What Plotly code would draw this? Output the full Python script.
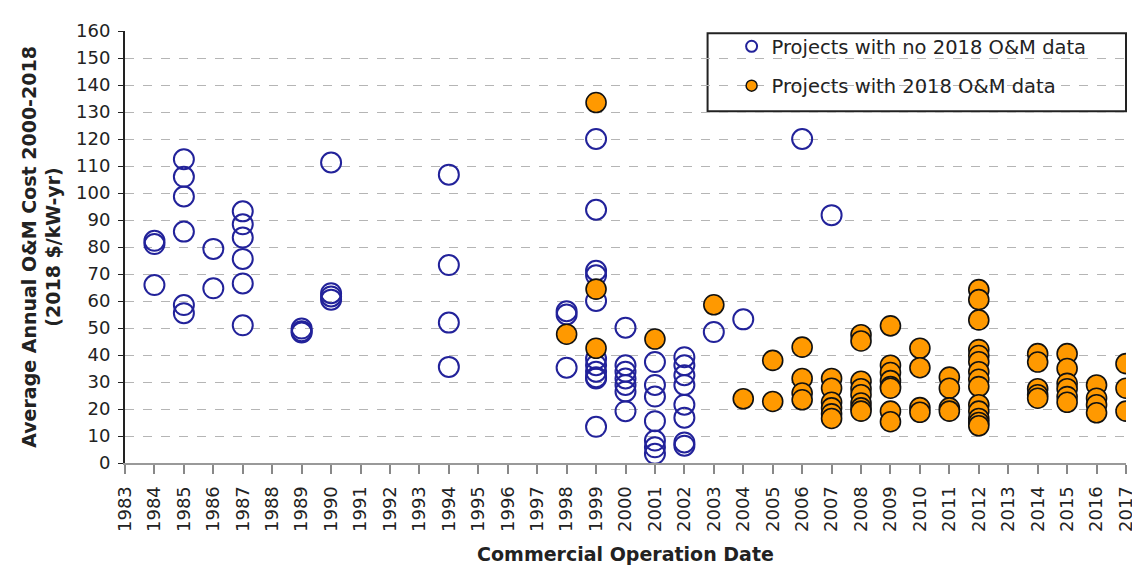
import plotly.graph_objects as go

# Projects with no 2018 O&M data (open blue circles)
no_data_years = (
    [1984] * 3 + [1985] * 6 + [1986] * 2 + [1987] * 6 + [1989] * 3 + [1990] * 4 +
    [1994] * 4 + [1998] * 3 + [1999] * 11 + [2000] * 7 + [2001] * 7 + [2002] * 8 +
    [2003] + [2004] + [2006] + [2007]
)
no_data_cost = (
    [82.3, 81.1, 65.9] +
    [112.5, 106, 98.7, 85.7, 58.5, 55.5] +
    [79.3, 64.7] +
    [93.2, 88.4, 83.5, 75.6, 66.5, 51] +
    [49.8, 48.8, 48.3] +
    [111.3, 62.9, 61.7, 60.5] +
    [106.8, 73.3, 52, 35.6] +
    [56.2, 55, 35.3] +
    [120, 93.8, 71.2, 69.5, 60, 38.6, 36.2, 33.8, 31.8, 31.3, 13.4] +
    [50.1, 36.2, 33.8, 31.3, 28.9, 26.5, 19.2] +
    [37.4, 28.9, 24.6, 15.5, 8.3, 5.8, 3.4] +
    [39.2, 36.2, 32.5, 28.9, 21.6, 16.8, 7.6, 6.4] +
    [48.5] + [53.2] + [120] + [91.8]
)

# Projects with 2018 O&M data (filled orange circles)
data_years = (
    [1998] + [1999] * 3 + [2001] + [2003] + [2004] + [2005] * 2 + [2006] * 4 +
    [2007] * 6 + [2008] * 8 + [2009] * 8 + [2010] * 4 + [2011] * 4 + [2012] * 14 +
    [2014] * 5 + [2015] * 6 + [2016] * 4 + [2017] * 3
)
data_cost = (
    [47.7] +
    [133.5, 64.4, 42.5] +
    [45.9] +
    [58.6] +
    [23.8] +
    [38, 22.8] +
    [42.9, 31.3, 25.9, 23.4] +
    [31.3, 27.7, 22.5, 20.4, 18.2, 16.5] +
    [47.5, 45.2, 30.3, 27.5, 25.3, 22.2, 20.4, 19.2] +
    [50.8, 36.2, 33.5, 30.5, 28.3, 27.7, 19.2, 15.3] +
    [42.5, 35.3, 20.5, 18.8] +
    [31.8, 27.7, 20.4, 19.2] +
    [64.2, 60.5, 53, 42, 39.8, 37.5, 33.8, 31, 28.3, 21.6, 19.2, 16.5, 15, 13.8] +
    [40.5, 37.4, 27.5, 25.3, 24] +
    [40.5, 35, 29.5, 27.5, 24.6, 22.5] +
    [28.9, 24, 21.6, 18.6] +
    [36.8, 27.7, 19.2]
)

legend_labels = ["Projects with no 2018 O&M data", "Projects with 2018 O&M data"]
year_ticks = list(range(1983, 2018))
cost_ticks = list(range(0, 161, 10))

BLUE = "#22229a"
ORANGE = "#ff9900"
FONT = "DejaVu Sans"

fig = go.Figure()

fig.add_trace(go.Scatter(
    x=no_data_years, y=no_data_cost, mode="markers", showlegend=False,
    marker=dict(symbol="circle-open", size=20, color=BLUE, line=dict(width=2, color=BLUE)),
))
fig.add_trace(go.Scatter(
    x=data_years, y=data_cost, mode="markers", showlegend=False,
    marker=dict(symbol="circle", size=20, color=ORANGE, line=dict(width=1.6, color="#111111")),
))

# legend-only entries with small markers
fig.add_trace(go.Scatter(
    x=[None], y=[None], mode="markers", name=legend_labels[0], legendgroup="a",
    marker=dict(symbol="circle-open", size=11, color=BLUE, line=dict(width=2, color=BLUE)),
))
fig.add_trace(go.Scatter(
    x=[None], y=[None], mode="markers", name=legend_labels[1], legendgroup="b",
    marker=dict(symbol="circle", size=11, color=ORANGE, line=dict(width=1.5, color="#111111")),
))

fig.update_layout(
    width=1140, height=567,
    margin=dict(l=117, r=18, t=15, b=112),
    paper_bgcolor="white", plot_bgcolor="white",
    font=dict(family=FONT, size=18, color="#222222"),
    legend=dict(
        x=0.606, y=1.009, xanchor="left", yanchor="top",
        bgcolor="rgba(255,255,255,0)", borderwidth=0,
        font=dict(family=FONT, size=19.5, color="#222222"),
        itemsizing="trace", tracegroupgap=11,
    ),
    shapes=[dict(
        type="rect", xref="paper", yref="paper",
        x0=0.582, x1=1.0, y0=0.814, y1=0.995,
        line=dict(color="#222222", width=2), fillcolor="white", layer="below",
    )],
)

fig.update_xaxes(
    range=[1983, 2017], tickmode="array", tickvals=year_ticks,
    ticktext=[str(v) for v in year_ticks], tickangle=-90,
    ticks="outside", ticklen=9, tickwidth=1.5, tickcolor="#888888",
    ticklabelstandoff=5,
    showline=True, linecolor="#999999", linewidth=2,
    showgrid=False, zeroline=False,
    tickfont=dict(family=FONT, size=18, color="#222222"),
    title=dict(text="<b>Commercial Operation Date</b>", standoff=17,
               font=dict(family=FONT, size=19, color="#222222")),
)
fig.update_yaxes(
    range=[0, 160], tickmode="array", tickvals=cost_ticks,
    ticks="outside", ticklen=5, tickcolor="#222222",
    ticklabelstandoff=4,
    showline=True, linecolor="#222222", linewidth=2,
    showgrid=True, gridcolor="#b5b5b5", griddash="dash", gridwidth=1,
    zeroline=False,
    tickfont=dict(family=FONT, size=18, color="#222222"),
    title=dict(text="<b>Average Annual O&M Cost 2000-2018<br>(2018 $/kW-yr)</b>", standoff=10,
               font=dict(family=FONT, size=19, color="#222222")),
)

fig.write_html("out.html")
